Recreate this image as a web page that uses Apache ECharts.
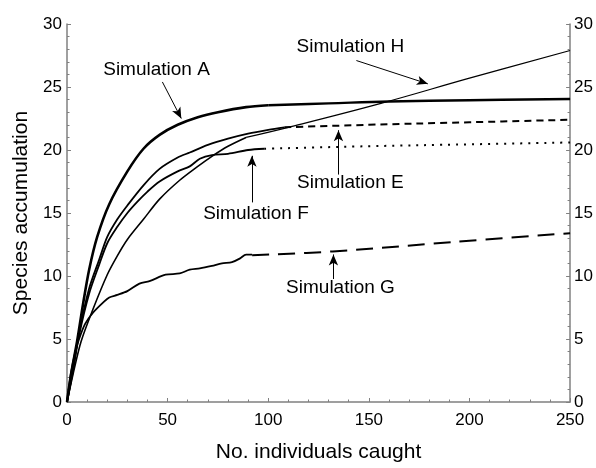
<!DOCTYPE html>
<html><head><meta charset="utf-8">
<script src="https://cdn.jsdelivr.net/npm/echarts@6/dist/echarts.min.js"></script>
<style>html,body{margin:0;padding:0;background:#fff}#c{width:596px;height:468px}</style>
</head><body><div id="c"></div>
<script>
// ---- data ----
const xTickStep = 50, yTickStep = 5;
const xMax = 250, yMax = 30;

const obsA_x = [0, 2, 5, 8, 11, 15, 21, 30, 38, 46, 55, 65, 75, 89, 100];
const obsA_y = [0, 2.2, 4.8, 7.8, 10.5, 13.1, 15.7, 18.3, 20.1, 21.2, 22.0, 22.6, 23.0, 23.4, 23.55];
const fitA_x = [100, 130, 160, 200, 250];
const fitA_y = [23.55, 23.7, 23.85, 23.95, 24.05];

const obsH_x = [0, 3, 7, 13, 20, 25, 30, 38, 46, 56, 65, 72, 80, 89];
const obsH_y = [0, 2.2, 4.8, 7.4, 10.1, 11.6, 12.9, 14.5, 16.1, 17.6, 18.7, 19.5, 20.3, 21.0];
const fitH_x = [89, 110, 156, 200, 250];
const fitH_y = [21.0, 21.8, 23.7, 25.7, 27.9];

const obsE_x = [0, 3, 6, 11, 16, 20, 25, 30, 38, 46, 55, 61, 70, 80, 90, 100, 108];
const obsE_y = [0, 2.6, 5.5, 9.0, 11.3, 13.1, 14.5, 15.6, 17.2, 18.5, 19.4, 19.8, 20.4, 20.9, 21.3, 21.6, 21.8];
const fitE_x = [108, 150, 200, 250];
const fitE_y = [21.8, 22.0, 22.2, 22.4];

const obsF_x = [0, 3, 6, 11, 16, 20, 25, 30, 35, 40, 46, 55, 61, 66, 72, 80, 90, 98];
const obsF_y = [0, 2.5, 5.3, 8.6, 10.9, 12.6, 13.9, 15.0, 15.9, 16.7, 17.5, 18.3, 18.7, 19.3, 19.6, 19.7, 20.0, 20.1];
const fitF_x = [98, 150, 200, 250];
const fitF_y = [20.1, 20.3, 20.45, 20.6];

const obsG_x = [0, 2, 4, 6, 9, 13, 18, 21, 25, 30, 36, 41, 49, 56, 61, 66, 72, 77, 82, 86, 89, 92];
const obsG_y = [0, 2.3, 3.9, 5.0, 6.2, 7.1, 7.9, 8.3, 8.5, 8.8, 9.4, 9.6, 10.1, 10.2, 10.5, 10.6, 10.8, 11.0, 11.1, 11.4, 11.7, 11.7];
const fitG_x = [92, 132, 200, 250];
const fitG_y = [11.65, 11.95, 12.8, 13.4];

// annotation labels (data coordinates of text centre)
const labelText = ['Simulation A', 'Simulation H', 'Simulation E', 'Simulation F', 'Simulation G'];
const labelX = [44.5, 140.8, 140.8, 93.9, 135.9];
const labelY = [26.4, 28.2, 17.4, 14.9, 9.1];
// arrows: tail (x,y) -> head (x,y)
const arrowX0 = [47.4, 143.8, 134.9, 91.9, 132.4];
const arrowY0 = [25.4, 27.1, 18.05, 15.84, 9.76];
const arrowX1 = [56.8, 179.3, 134.9, 91.9, 132.4];
const arrowY1 = [22.5, 25.25, 21.57, 19.54, 11.71];

// ---- build ----
const zip = (xs, ys) => xs.map((x, i) => [x, ys[i]]);
const tickFont = "'Liberation Sans', Arial, sans-serif";
const textFont = "'Liberation Sans', Arial, sans-serif";
const axisGray = '#808080';

function lineSeries(name, data, width, type, smooth) {
  return {
    name, type: 'line', data, smooth: smooth === undefined ? 0.3 : smooth, symbol: 'none', silent: true,
    lineStyle: { color: '#000', width, type: type || 'solid' },
    emphasis: { disabled: true }, animation: false, z: 3
  };
}

const yAxisBase = {
  type: 'value', min: 0, max: yMax, interval: yTickStep,
  axisLine: { show: true, lineStyle: { color: axisGray, width: 1.5 } },
  axisTick: { show: true, inside: true, length: 4, lineStyle: { color: axisGray } },
  minorTick: { show: true, splitNumber: 5, length: 2.5, lineStyle: { color: axisGray } },
  splitLine: { show: false },
  axisLabel: { fontFamily: tickFont, fontSize: 17, color: '#000', margin: 5 }
};

const chart = echarts.init(document.getElementById('c'), null, { renderer: 'canvas' });
const option = {
  animation: false,
  backgroundColor: '#fff',
  grid: { left: 67, right: 23, top: 24, bottom: 60, containLabel: false },
  xAxis: {
    type: 'value', min: 0, max: xMax, interval: xTickStep,
    name: 'No. individuals caught', nameLocation: 'middle', nameGap: 40,
    nameTextStyle: { fontFamily: textFont, fontSize: 21, color: '#000' },
    axisLine: { show: true, lineStyle: { color: axisGray, width: 1.5 } },
    axisTick: { show: true, inside: true, length: 4, lineStyle: { color: axisGray } },
    minorTick: { show: true, splitNumber: 5, length: 2.5, lineStyle: { color: axisGray } },
    splitLine: { show: false },
    axisLabel: { fontFamily: tickFont, fontSize: 17, color: '#000', margin: 10 }
  },
  yAxis: [
    Object.assign({}, yAxisBase, {
      position: 'left',
      name: 'Species accumulation', nameLocation: 'middle', nameGap: 35,
      nameTextStyle: { fontFamily: textFont, fontSize: 21, color: '#000' }
    }),
    Object.assign({}, yAxisBase, { position: 'right', axisLabel: Object.assign({}, yAxisBase.axisLabel, { margin: 4 }) })
  ],
  series: [
    lineSeries('A observed', zip(obsA_x, obsA_y), 2.6),
    lineSeries('A fitted', zip(fitA_x, fitA_y), 2.4, 'solid', 0.4),
    lineSeries('H observed', zip(obsH_x, obsH_y), 1.6),
    lineSeries('H fitted', zip(fitH_x, fitH_y), 1.2, 'solid', 0.4),
    lineSeries('E observed', zip(obsE_x, obsE_y), 1.8),
    lineSeries('E fitted', zip(fitE_x, fitE_y), 2, [7, 5], 0.4),
    lineSeries('F observed', zip(obsF_x, obsF_y), 1.8),
    lineSeries('F fitted', zip(fitF_x, fitF_y), 2, [2, 6], 0.4),
    lineSeries('G observed', zip(obsG_x, obsG_y), 1.8),
    Object.assign(lineSeries('G fitted', zip(fitG_x, fitG_y), 2, [17, 9], 0.4), {
      markLine: {
        silent: true, animation: false,
        symbol: ['none', 'arrow'], symbolSize: [7, 11],
        lineStyle: { color: '#000', width: 1, type: 'solid' },
        itemStyle: { color: '#000' },
        label: { show: false },
        emphasis: { disabled: true },
        data: arrowX0.map((x, i) => [{ coord: [x, arrowY0[i]] }, { coord: [arrowX1[i], arrowY1[i]] }])
      }
    })
  ]
};
chart.setOption(option);

const graphics = labelText.map((t, i) => {
  const p = chart.convertToPixel({ xAxisIndex: 0, yAxisIndex: 0 }, [labelX[i], labelY[i]]);
  return {
    type: 'text', x: p[0], y: p[1], silent: true,
    style: { text: t, align: 'center', verticalAlign: 'middle', font: "19px " + textFont, fill: '#000' }
  };
});
chart.setOption({ graphic: graphics });
</script>
</body></html>
